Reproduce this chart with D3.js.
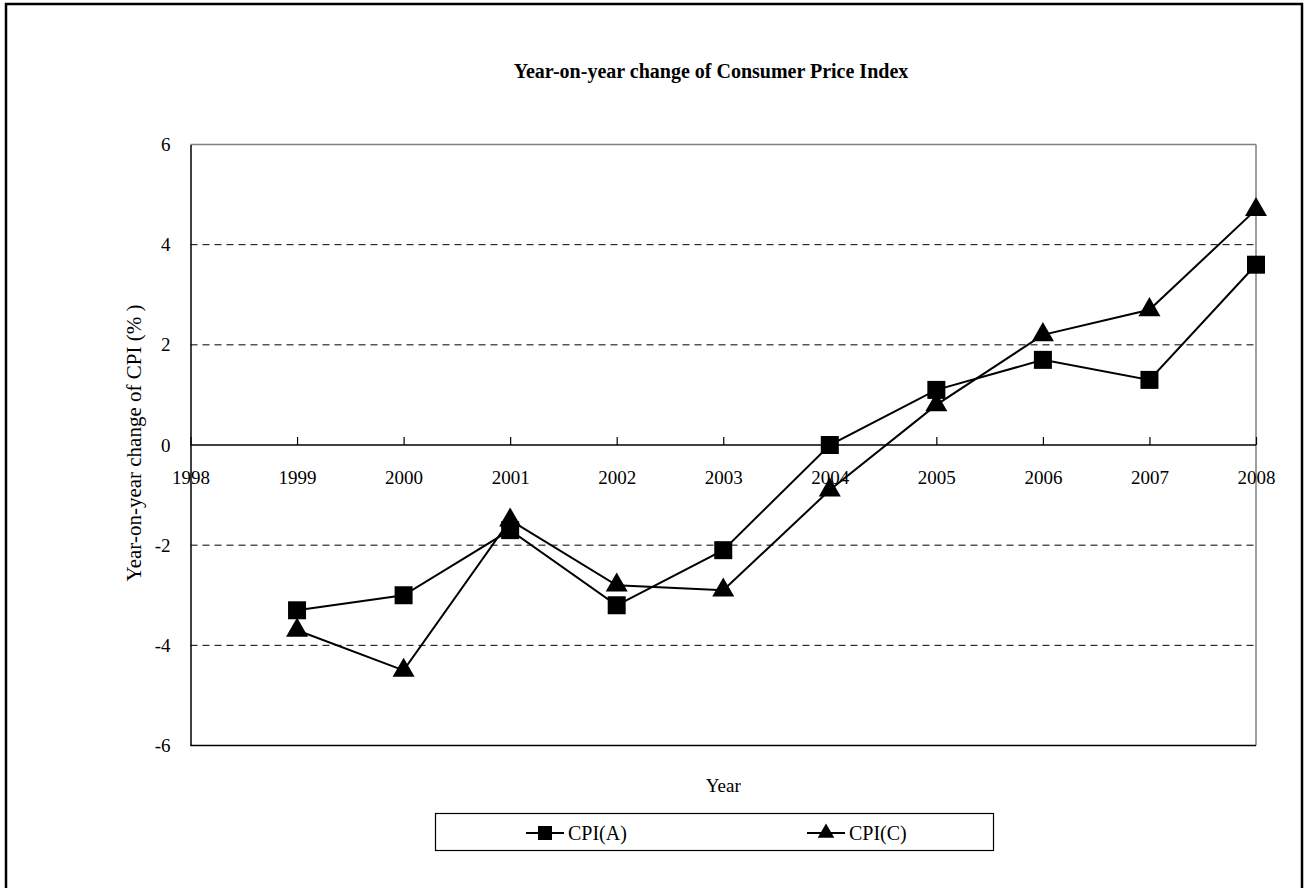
<!DOCTYPE html>
<html>
<head>
<meta charset="utf-8">
<script src="https://cdn.jsdelivr.net/npm/d3@7"></script>
<style>
  body { margin: 0; background: #fff; }
  text { font-family: "Liberation Serif", "Times New Roman", serif; fill: #000; }
</style>
</head>
<body>
<div id="charts"></div>
<script>
const years = [1999, 2000, 2001, 2002, 2003, 2004, 2005, 2006, 2007, 2008];
const cpiA = [-3.3, -3.0, -1.7, -3.2, -2.1, 0.0, 1.1, 1.7, 1.3, 3.6];
const cpiC = [-3.7, -4.5, -1.5, -2.8, -2.9, -0.9, 0.8, 2.2, 2.7, 4.7];
const xTicks = [1998, 1999, 2000, 2001, 2002, 2003, 2004, 2005, 2006, 2007, 2008];
const yTicks = [-6, -4, -2, 0, 2, 4, 6];
const seriesNames = ["CPI(A)", "CPI(C)"];

const width = 1305;
const height = 888;

const svg = d3.select("#charts")
    .append("svg")
    .attr("width", width)
    .attr("height", height);

// outer chart frame
svg.append("rect")
    .attr("x", 6).attr("y", 4)
    .attr("width", 1296).attr("height", 900)
    .attr("fill", "none")
    .attr("stroke", "#000")
    .attr("stroke-width", 2.5);

const xScale = d3.scaleLinear().domain([1998, 2008]).range([190.5, 1256]);
const yScale = d3.scaleLinear().domain([-6, 6]).range([745.5, 144.5]);

// dashed gridlines
svg.selectAll("line.grid")
    .data(yTicks.filter(d => d !== 0 && Math.abs(d) !== 6))
    .enter()
    .append("line")
    .attr("class", "grid")
    .attr("x1", xScale(1998)).attr("x2", xScale(2008))
    .attr("y1", d => yScale(d)).attr("y2", d => yScale(d))
    .attr("stroke", "#000")
    .attr("stroke-width", 1)
    .attr("stroke-dasharray", "7,5");

// plot area border: top and right grey
svg.append("line")
    .attr("x1", xScale(1998)).attr("x2", xScale(2008))
    .attr("y1", yScale(6)).attr("y2", yScale(6))
    .attr("stroke", "#808080").attr("stroke-width", 1.5);
svg.append("line")
    .attr("x1", xScale(2008)).attr("x2", xScale(2008))
    .attr("y1", yScale(6)).attr("y2", yScale(-6))
    .attr("stroke", "#808080").attr("stroke-width", 1.5);
svg.append("line")
    .attr("x1", xScale(1998)).attr("x2", xScale(2008))
    .attr("y1", yScale(-6)).attr("y2", yScale(-6))
    .attr("stroke", "#000").attr("stroke-width", 1.5);

// y axis
const yAxis = d3.axisLeft(yScale).tickValues(yTicks).tickSize(0).tickPadding(20)
    .tickFormat(d => String(d));
const gy = svg.append("g")
    .attr("transform", `translate(${xScale(1998)},0)`)
    .call(yAxis);
gy.select(".domain").attr("stroke", "#000").attr("stroke-width", 1.5);
gy.selectAll("text")
    .style("font-size", "19px")
    .style("font-family", "Liberation Serif");

// x axis on the zero line, ticks pointing up
const xAxis = d3.axisTop(xScale).tickValues(xTicks).tickSize(8).tickFormat(d => String(d));
const gx = svg.append("g")
    .attr("transform", `translate(0,${yScale(0)})`)
    .call(xAxis);
gx.select(".domain").attr("stroke", "#000").attr("stroke-width", 1.5).attr("d", `M${xScale(1998)},0H${xScale(2008)}`);
gx.selectAll(".tick line").attr("stroke", "#000").attr("stroke-width", 1.2);
gx.selectAll("text")
    .attr("y", 33)
    .attr("dy", "0.32em")
    .style("font-size", "19px")
    .style("font-family", "Liberation Serif");

// series lines
const line = d3.line()
    .x((d, i) => xScale(years[i]))
    .y(d => yScale(d));

svg.append("path").datum(cpiA)
    .attr("d", line).attr("fill", "none").attr("stroke", "#000").attr("stroke-width", 2);
svg.append("path").datum(cpiC)
    .attr("d", line).attr("fill", "none").attr("stroke", "#000").attr("stroke-width", 2);

const squareSym = d3.symbol().type(d3.symbolSquare).size(18 * 18);
const triSym = d3.symbol().type(d3.symbolTriangle).size(210);

svg.selectAll("path.ptA")
    .data(cpiA).enter()
    .append("path")
    .attr("class", "ptA")
    .attr("d", squareSym)
    .attr("transform", (d, i) => `translate(${xScale(years[i])},${yScale(d)})`)
    .attr("fill", "#000");

svg.selectAll("path.ptC")
    .data(cpiC).enter()
    .append("path")
    .attr("class", "ptC")
    .attr("d", triSym)
    .attr("transform", (d, i) => `translate(${xScale(years[i])},${yScale(d)})`)
    .attr("fill", "#000");

// title and axis labels
svg.append("text")
    .attr("x", 711).attr("y", 78)
    .attr("text-anchor", "middle")
    .style("font-size", "20px")
    .style("font-weight", "bold")
    .text("Year-on-year change of Consumer Price Index");

svg.append("text")
    .attr("x", (xScale(1998) + xScale(2008)) / 2).attr("y", 785)
    .attr("dy", "0.35em")
    .attr("text-anchor", "middle")
    .style("font-size", "19px")
    .text("Year");

svg.append("text")
    .attr("transform", `translate(134,${yScale(0) - 2}) rotate(-90)`)
    .attr("dy", "0.35em")
    .attr("text-anchor", "middle")
    .style("font-size", "21px")
    .text("Year-on-year change of CPI (% )");

// legend
svg.append("rect")
    .attr("x", 435.5).attr("y", 813.5)
    .attr("width", 558).attr("height", 37)
    .attr("fill", "#fff")
    .attr("stroke", "#000")
    .attr("stroke-width", 1.2);

const legendX = [545, 826];
const legendSym = [
    d3.symbol().type(d3.symbolSquare).size(14 * 14),
    d3.symbol().type(d3.symbolTriangle).size(120)
];

const lg = svg.selectAll("g.legend")
    .data(seriesNames).enter()
    .append("g")
    .attr("class", "legend")
    .attr("transform", (d, i) => `translate(${legendX[i]},833)`);

lg.append("line")
    .attr("x1", -19).attr("x2", 19)
    .attr("stroke", "#000").attr("stroke-width", 2);
lg.append("path")
    .attr("d", (d, i) => legendSym[i]())
    .attr("fill", "#000");
lg.append("text")
    .attr("x", 23)
    .attr("dy", "0.35em")
    .style("font-size", "20px")
    .text(d => d);
</script>
</body>
</html>
